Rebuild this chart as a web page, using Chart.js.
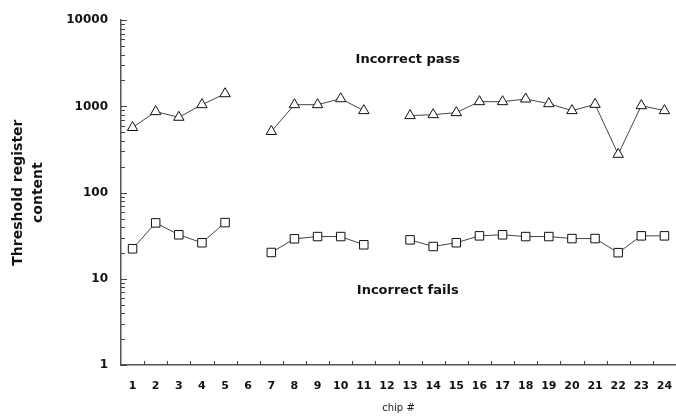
<!DOCTYPE html>
<html>
<head>
<meta charset="utf-8">
<script src="https://cdn.jsdelivr.net/npm/chart.js@4"></script>
<style>
    html, body { margin: 0; padding: 0; background: #fff; overflow: hidden; }
    #wrap { width: 676px; height: 420px; position: relative; }
    canvas { display: block; }
</style>
</head>
<body>
<div id="wrap"><canvas id="chart"></canvas></div>
<script>
// Dati del grafico
const chips = ['1', '2', '3', '4', '5', '6', '7', '8', '9', '10', '11', '12',
               '13', '14', '15', '16', '17', '18', '19', '20', '21', '22', '23', '24'];
const passValues = [569, 870, 748, 1047, 1403, null, 512, 1047, 1047, 1228, 893, null,
                    782, 802, 847, 1135, 1135, 1219, 1076, 893, 1056, 278, 1020, 893];
const failValues = [22.3, 44.5, 32.4, 26.2, 44.9, null, 20.2, 29.1, 30.9, 30.9, 24.8, null,
                    28.3, 23.7, 26.2, 31.5, 32.4, 30.9, 30.9, 29.3, 29.3, 20.1, 31.5, 31.5];
const yTicks = [1, 10, 100, 1000, 10000];
const seriesNames = ['Incorrect pass', 'Incorrect fails'];

const FONT = '"DejaVu Sans", sans-serif';

// Tacche degli assi e etichette delle serie
const tickMarks = {
    id: 'tickMarks',
    afterDraw(chart) {
        const { ctx, chartArea, scales: { x, y } } = chart;
        ctx.save();
        ctx.strokeStyle = '#444';
        ctx.lineWidth = 1;
        ctx.beginPath();
        // tacche minori e maggiori sull'asse y
        yTicks.forEach(base => {
            for (let m = 1; m <= 9; m++) {
                const v = base * m;
                if (v > y.max) break;
                const py = Math.round(y.getPixelForValue(v)) + 0.5;
                ctx.moveTo(chartArea.left, py);
                ctx.lineTo(chartArea.left + (m === 1 ? 6 : 4), py);
            }
        });
        // tacche tra le categorie sull'asse x
        for (let i = 1; i < chips.length; i++) {
            const px = Math.round((x.getPixelForValue(i - 1) + x.getPixelForValue(i)) / 2) + 0.5;
            ctx.moveTo(px, chartArea.bottom);
            ctx.lineTo(px, chartArea.bottom - 4);
        }
        ctx.stroke();

        ctx.fillStyle = '#111';
        ctx.font = 'bold 13px ' + FONT;
        ctx.textAlign = 'center';
        ctx.textBaseline = 'middle';
        const cx = x.getPixelForValue(11.9);
        ctx.fillText(seriesNames[0], cx, y.getPixelForValue(3460));
        ctx.fillText(seriesNames[1], cx, y.getPixelForValue(7.3));
        ctx.restore();
    }
};

const ctx = document.getElementById('chart').getContext('2d');
new Chart(ctx, {
    type: 'line',
    data: {
        labels: chips,
        datasets: [{
            label: seriesNames[0],
            data: passValues,
            borderColor: '#444',
            borderWidth: 1,
            pointStyle: 'triangle',
            pointRadius: 6,
            pointBackgroundColor: '#fff',
            pointBorderColor: '#111',
            pointBorderWidth: 1,
            spanGaps: false,
            tension: 0
        }, {
            label: seriesNames[1],
            data: failValues,
            borderColor: '#444',
            borderWidth: 1,
            pointStyle: 'rect',
            pointRadius: 6,
            pointBackgroundColor: '#fff',
            pointBorderColor: '#111',
            pointBorderWidth: 1,
            spanGaps: false,
            tension: 0
        }]
    },
    options: {
        responsive: true,
        maintainAspectRatio: false,
        animation: false,
        layout: { autoPadding: false, padding: { top: 18, left: 0, right: 0, bottom: 0 } },
        plugins: {
            legend: { display: false },
            tooltip: { enabled: false }
        },
        scales: {
            x: {
                type: 'category',
                offset: true,
                grid: { display: false, drawTicks: false },
                border: { display: true, color: '#555', width: 1.5 },
                ticks: {
                    color: '#111',
                    padding: 15,
                    autoSkip: false,
                    maxRotation: 0,
                    font: { family: FONT, size: 11, weight: 'bold' }
                },
                title: {
                    display: true,
                    text: 'chip #',
                    color: '#222',
                    padding: { top: 0, bottom: 6 },
                    font: { family: FONT, size: 10 }
                },
                afterFit(scale) {
                    scale.height = 55;
                    scale.paddingLeft = 0;
                    scale.paddingRight = 0;
                }
            },
            y: {
                type: 'logarithmic',
                min: 1,
                max: 10000,
                grid: { display: false, drawTicks: false },
                border: { display: true, color: '#555', width: 1.5 },
                afterBuildTicks(scale) {
                    scale.ticks = yTicks.map(v => ({ value: v }));
                },
                ticks: {
                    color: '#111',
                    padding: 13,
                    font: { family: FONT, size: 12, weight: 'bold' },
                    callback: v => String(v)
                },
                title: {
                    display: true,
                    text: ['Threshold register', 'content'],
                    color: '#111',
                    padding: { top: 8, bottom: 0 },
                    font: { family: FONT, size: 14, weight: 'bold', lineHeight: 1.45 }
                },
                afterFit(scale) { scale.width = 121; }
            }
        }
    },
    plugins: [tickMarks]
});
</script>
</body>
</html>
